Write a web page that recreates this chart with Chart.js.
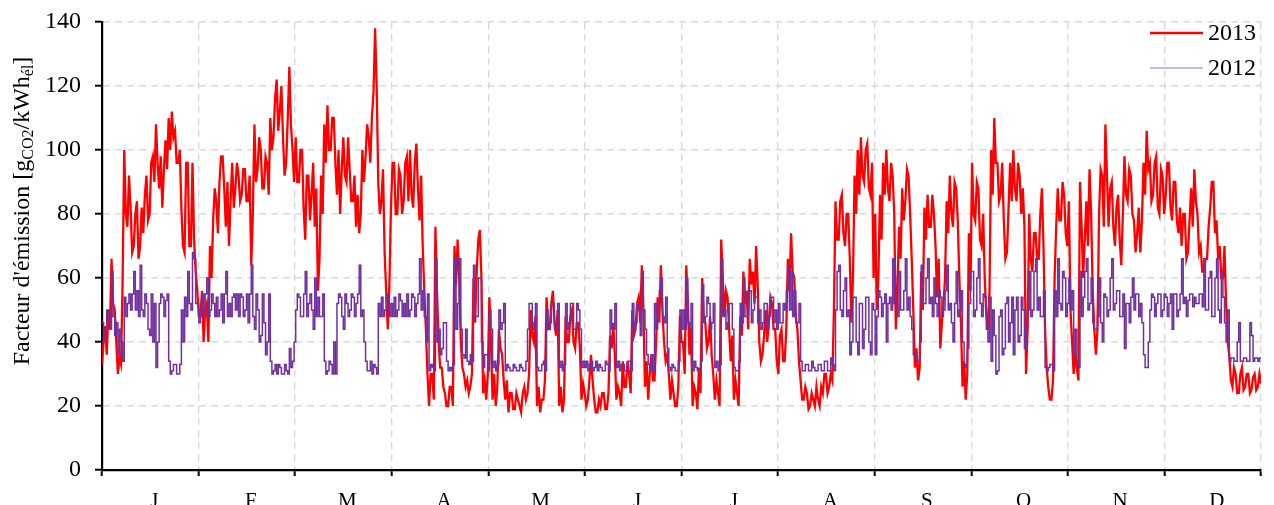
<!DOCTYPE html>
<html>
<head>
<meta charset="utf-8">
<script src="https://cdn.jsdelivr.net/npm/chart.js@4.4.1/dist/chart.umd.min.js"></script>
<style>
  html, body { margin: 0; padding: 0; background: #fff; overflow: hidden; }
  #wrap { width: 1274px; height: 505px; overflow: hidden; }
</style>
</head>
<body>
<div id="wrap"><canvas id="emissionChart" width="1274" height="525"></canvas></div>
<script>
// Facteur d'émission horaire, relevé jour par jour sur le graphique :
// pour chaque jour une valeur (A) et l'autre bord de la bande (B), g CO2 / kWh él
const monthLabels = ['J', 'F', 'M', 'A', 'M', 'J', 'J', 'A', 'S', 'O', 'N', 'D'];
const yTicks = [0, 20, 40, 60, 80, 100, 120, 140];

const emis2013A = [
  33, 45, 50, 66, 50, 30, 33, 100, 76, 82, 70, 84, 70, 74, 92, 80, 98, 108, 88, 82, 103, 110, 112, 106, 96, 82, 68, 96, 70, 72,
  56, 48, 40, 52, 70, 78, 84, 90, 98, 76, 70, 96, 88, 92, 86, 94, 84, 64, 108, 94, 100, 88, 96, 110, 104, 122, 112, 104, 96, 126, 100,
  104, 90, 100, 72, 92, 86, 76, 56, 92, 108, 114, 100, 110, 86, 80, 104, 90, 94, 84, 76, 74, 100, 98, 104, 110, 138, 90, 84, 68, 44,
  82, 96, 80, 92, 84, 98, 100, 82, 102, 78, 70, 44, 20, 30, 76, 40, 32, 24, 20, 26, 70, 72, 40, 30, 28, 26, 60, 62, 75, 24, 22,
  54, 22, 20, 44, 36, 22, 18, 24, 19, 22, 18, 26, 24, 50, 40, 20, 18, 22, 54, 44, 56, 42, 20, 18, 48, 40, 50, 38, 46, 22,
  24, 22, 36, 22, 18, 20, 24, 19, 42, 46, 22, 24, 34, 26, 30, 50, 44, 54, 64, 26, 22, 36, 28, 54, 64, 40, 36, 22, 24, 20, 48,
  40, 64, 36, 20, 24, 32, 60, 46, 40, 36, 22, 24, 72, 48, 54, 34, 22, 24, 48, 62, 56, 66, 62, 70, 40, 36, 50, 46, 52, 44,
  30, 44, 34, 66, 74, 60, 44, 28, 22, 24, 20, 22, 26, 20, 24, 30, 26, 28, 84, 72, 86, 70, 80, 46, 92, 100, 104, 90, 102, 86, 60,
  50, 86, 96, 100, 84, 92, 44, 76, 88, 84, 92, 66, 32, 28, 62, 82, 86, 76, 80, 54, 38, 52, 84, 92, 76, 88, 60, 26, 22, 74,
  96, 78, 88, 70, 60, 44, 100, 110, 96, 86, 78, 68, 96, 100, 84, 92, 88, 30, 80, 62, 74, 66, 88, 44, 26, 22, 60, 88, 78, 86, 70,
  50, 30, 32, 90, 60, 84, 94, 56, 36, 80, 92, 108, 76, 90, 70, 86, 64, 98, 84, 92, 78, 74, 68, 96, 106, 96, 86, 98, 80, 92,
  86, 96, 78, 90, 74, 70, 80, 68, 88, 94, 80, 70, 62, 66, 82, 90, 78, 70, 60, 52, 36, 26, 30, 24, 32, 26, 30, 25, 30, 26, 27
];
const emis2013B = [
  40, 36, 44, 52, 40, 35, 60, 80, 92, 68, 80, 66, 82, 86, 78, 96, 90, 96, 98, 94, 94, 100, 104, 96, 100, 70, 96, 70, 96, 62,
  48, 56, 50, 40, 60, 88, 74, 98, 88, 90, 84, 82, 96, 84, 94, 84, 92, 80, 90, 104, 88, 98, 86, 100, 116, 106, 120, 92, 110, 108, 90,
  90, 100, 82, 92, 78, 96, 88, 66, 80, 96, 100, 110, 96, 100, 94, 92, 104, 84, 92, 86, 80, 90, 108, 96, 118, 120, 80, 94, 56, 58,
  96, 80, 94, 80, 96, 84, 86, 96, 88, 92, 56, 30, 30, 22, 56, 32, 26, 20, 26, 20, 58, 60, 32, 26, 24, 30, 46, 72, 60, 28, 30,
  40, 30, 26, 38, 28, 28, 24, 19, 24, 20, 24, 22, 30, 42, 48, 26, 22, 28, 44, 52, 46, 50, 26, 22, 40, 48, 40, 46, 38, 27,
  20, 28, 28, 18, 22, 24, 19, 24, 38, 36, 26, 20, 26, 34, 24, 42, 52, 46, 50, 34, 30, 28, 40, 46, 50, 34, 30, 28, 20, 26, 40,
  30, 52, 44, 26, 19, 24, 48, 38, 48, 30, 28, 20, 60, 56, 44, 42, 28, 20, 42, 52, 44, 58, 52, 58, 34, 42, 40, 54, 44, 34,
  42, 34, 44, 56, 62, 48, 34, 22, 26, 19, 24, 20, 22, 26, 30, 24, 30, 50, 72, 84, 74, 80, 66, 60, 80, 86, 92, 100, 88, 96, 80,
  60, 72, 86, 88, 96, 80, 56, 66, 78, 94, 80, 50, 38, 32, 50, 72, 76, 86, 70, 66, 46, 60, 74, 80, 90, 78, 46, 34, 30, 56,
  80, 90, 72, 80, 48, 56, 86, 96, 84, 96, 66, 82, 84, 88, 96, 80, 76, 44, 66, 74, 66, 80, 70, 32, 22, 28, 76, 78, 90, 74, 84,
  40, 36, 28, 76, 72, 70, 80, 44, 44, 94, 76, 92, 88, 76, 82, 72, 80, 86, 94, 80, 68, 82, 78, 86, 94, 84, 96, 82, 94, 80,
  96, 82, 90, 78, 82, 80, 66, 78, 76, 84, 68, 62, 66, 76, 90, 74, 66, 60, 70, 40, 28, 32, 24, 30, 25, 30, 24, 29, 25, 30, 26
];

const emis2012A = [
  46, 44, 48, 62, 42, 36, 40, 54, 52, 50, 62, 56, 64, 48, 52, 42, 40, 32, 52, 54, 53, 34, 31, 33, 30, 50, 54, 62, 50, 66,
  52, 50, 48, 60, 50, 52, 54, 50, 46, 62, 52, 54, 50, 48, 54, 50, 46, 64, 44, 50, 42, 46, 40, 34, 31, 30, 32, 30, 31, 38, 34,
  50, 54, 48, 62, 52, 50, 60, 54, 48, 34, 31, 33, 40, 52, 54, 44, 52, 50, 54, 52, 64, 50, 34, 31, 30, 32, 52, 54, 50, 53,
  52, 54, 50, 53, 52, 55, 50, 54, 52, 66, 56, 40, 31, 32, 66, 44, 38, 46, 31, 31, 66, 52, 44, 35, 34, 36, 64, 48, 60, 32, 36,
  50, 32, 31, 50, 46, 31, 32, 31, 32, 31, 32, 31, 44, 52, 46, 32, 31, 34, 50, 46, 52, 44, 32, 31, 52, 46, 52, 44, 50, 32,
  32, 31, 34, 32, 31, 32, 31, 33, 50, 44, 32, 31, 33, 31, 34, 52, 46, 50, 62, 44, 33, 36, 52, 48, 60, 46, 38, 31, 32, 31, 50,
  50, 60, 44, 31, 32, 31, 58, 48, 52, 46, 32, 31, 66, 50, 46, 52, 32, 31, 52, 60, 48, 56, 50, 54, 50, 46, 52, 48, 54, 50,
  52, 46, 50, 64, 62, 56, 46, 34, 31, 33, 31, 32, 31, 33, 31, 34, 31, 33, 50, 64, 48, 60, 50, 40, 54, 36, 52, 44, 54, 36, 50,
  48, 54, 52, 40, 54, 66, 52, 62, 50, 66, 54, 44, 36, 34, 64, 52, 66, 54, 60, 48, 54, 50, 64, 52, 40, 62, 50, 40, 32, 52,
  62, 50, 66, 48, 54, 40, 34, 42, 31, 50, 38, 54, 46, 36, 54, 42, 50, 44, 62, 50, 66, 54, 48, 32, 32, 33, 56, 66, 50, 60, 52,
  50, 36, 34, 62, 54, 66, 52, 46, 44, 60, 40, 54, 50, 66, 52, 56, 48, 38, 52, 54, 50, 55, 52, 36, 32, 50, 54, 52, 55, 50,
  54, 52, 44, 55, 50, 66, 54, 53, 55, 54, 52, 55, 66, 50, 62, 48, 66, 46, 54, 40, 34, 35, 34, 46, 34, 35, 34, 42, 35, 34, 35
];
const emis2012B = [
  40, 50, 44, 48, 46, 44, 34, 48, 55, 55, 50, 48, 50, 55, 44, 55, 52, 40, 55, 48, 55, 30, 33, 30, 33, 40, 48, 52, 68, 52,
  46, 55, 55, 48, 55, 48, 48, 55, 55, 48, 48, 55, 55, 55, 48, 55, 55, 48, 55, 40, 55, 36, 55, 30, 33, 33, 30, 33, 30, 32, 40,
  55, 48, 55, 48, 55, 44, 48, 48, 55, 30, 34, 30, 30, 55, 48, 55, 48, 55, 48, 55, 48, 40, 31, 34, 33, 30, 48, 48, 55, 48,
  48, 48, 55, 48, 48, 48, 55, 48, 55, 50, 48, 55, 33, 31, 40, 36, 46, 34, 32, 33, 44, 66, 36, 44, 33, 34, 48, 60, 40, 36, 31,
  44, 34, 33, 44, 52, 33, 31, 33, 31, 33, 31, 34, 52, 44, 52, 31, 33, 31, 44, 52, 44, 52, 34, 33, 44, 52, 44, 52, 44, 34,
  34, 33, 31, 34, 33, 31, 34, 31, 44, 52, 34, 33, 31, 34, 31, 44, 52, 42, 50, 36, 31, 31, 44, 56, 48, 54, 32, 33, 31, 34, 44,
  44, 46, 52, 34, 31, 34, 46, 54, 44, 52, 34, 33, 48, 44, 52, 44, 31, 34, 46, 48, 56, 46, 54, 46, 44, 52, 44, 54, 46, 44,
  46, 52, 56, 50, 48, 46, 52, 31, 33, 31, 34, 31, 33, 31, 34, 31, 35, 31, 62, 50, 56, 48, 36, 54, 40, 52, 38, 54, 40, 52, 36,
  56, 48, 55, 52, 50, 52, 48, 50, 56, 50, 48, 36, 34, 40, 52, 60, 52, 48, 52, 56, 48, 56, 50, 46, 52, 48, 56, 33, 38, 62,
  48, 60, 52, 55, 44, 54, 50, 30, 48, 36, 52, 40, 54, 50, 40, 54, 38, 50, 48, 62, 50, 48, 56, 31, 33, 31, 48, 52, 62, 48, 60,
  56, 44, 32, 48, 62, 50, 60, 44, 48, 46, 55, 48, 60, 50, 56, 48, 55, 52, 46, 60, 55, 48, 46, 32, 40, 55, 48, 55, 48, 55,
  48, 55, 55, 48, 55, 52, 48, 55, 51, 52, 55, 51, 50, 60, 48, 60, 50, 62, 46, 50, 35, 34, 40, 34, 35, 34, 46, 34, 35, 35, 34
];

const HOURS_PER_DAY = 24;
const HOURS_PER_MONTH = 730;  // 8760 / 12, axe en heures comme dans le tableur
const HOURS_PER_YEAR = 8760;
const SERIF = "'Liberation Serif', 'Times New Roman', serif";
const GRID_GREY = '#d9d9d9';

// A au début du jour, B à midi
function toPoints(a, b) {
  const pts = [];
  a.forEach((v, i) => {
    pts.push({ x: i * HOURS_PER_DAY, y: v });
    const xb = i * HOURS_PER_DAY + HOURS_PER_DAY / 2;
    if (xb <= HOURS_PER_YEAR) pts.push({ x: xb, y: b[i] });
  });
  return pts;
}

// un tick tous les demi-mois : bords de mois (trait + grille) et milieux (lettre)
const xTickValues = [];
for (let i = 0; i <= 24; i++) xTickValues.push(i * HOURS_PER_MONTH / 2);
const isMonthEdge = (v) => Math.round(v) % HOURS_PER_MONTH === 0;

// titre de l'axe Y avec indices, et légende en haut à droite
const decorations = {
  id: 'decorations',
  afterDraw(chart) {
    const ctx = chart.ctx;
    const parts = [
      { t: "Facteur d'émission [g", sub: false },
      { t: 'CO2', sub: true },
      { t: '/kWh', sub: false },
      { t: 'él', sub: true },
      { t: ']', sub: false }
    ];
    const mainFont = '24px ' + SERIF;
    const subFont = '16px ' + SERIF;
    ctx.save();
    let total = 0;
    parts.forEach(p => {
      ctx.font = p.sub ? subFont : mainFont;
      p.w = ctx.measureText(p.t).width;
      total += p.w;
    });
    ctx.translate(29, 211);
    ctx.rotate(-Math.PI / 2);
    ctx.fillStyle = '#000';
    ctx.textBaseline = 'alphabetic';
    let x = -total / 2;
    parts.forEach(p => {
      ctx.font = p.sub ? subFont : mainFont;
      ctx.fillText(p.t, x, p.sub ? 4 : 0);
      x += p.w;
    });
    ctx.restore();

    // légende
    const items = [
      { label: '2013', color: '#ff0000', width: 2.5, y: 33 },
      { label: '2012', color: '#9a6cc8', width: 1.2, y: 68 }
    ];
    ctx.save();
    ctx.font = '24px ' + SERIF;
    ctx.textBaseline = 'middle';
    items.forEach(it => {
      ctx.strokeStyle = it.color;
      ctx.lineWidth = it.width;
      ctx.beginPath();
      ctx.moveTo(1150, it.y);
      ctx.lineTo(1203, it.y);
      ctx.stroke();
      ctx.fillStyle = '#000';
      ctx.fillText(it.label, 1208, it.y + 1);
    });
    ctx.restore();
  }
};

const ctx = document.getElementById('emissionChart').getContext('2d');
const emissionChart = new Chart(ctx, {
  type: 'line',
  data: {
    datasets: [
      {
        label: '2012',
        data: toPoints(emis2012A, emis2012B),
        borderColor: '#7030a0',
        borderWidth: 1.5,
        stepped: true,
        order: 0
      },
      {
        label: '2013',
        data: toPoints(emis2013A, emis2013B),
        borderColor: '#ff0000',
        borderWidth: 2.3,
        order: 1
      }
    ]
  },
  options: {
    responsive: false,
    animation: false,
    events: [],
    elements: {
      point: { radius: 0 },
      line: { tension: 0 }
    },
    layout: { padding: { top: 22, right: 1, left: 0, bottom: 0 } },
    plugins: {
      legend: { display: false },
      tooltip: { enabled: false }
    },
    scales: {
      x: {
        type: 'linear',
        min: 0,
        max: HOURS_PER_YEAR,
        afterBuildTicks: (scale) => {
          scale.ticks = xTickValues.map(v => ({ value: v }));
        },
        afterFit: (scale) => { scale.height = 55; },
        ticks: {
          autoSkip: false,
          maxRotation: 0,
          padding: 13,
          labelOffset: 4,
          color: '#000',
          font: { family: SERIF, size: 21 },
          callback: (value) => isMonthEdge(value)
            ? ''
            : monthLabels[Math.floor(value / HOURS_PER_MONTH)]
        },
        grid: {
          color: (c) => (c.tick && isMonthEdge(c.tick.value)) ? GRID_GREY : 'rgba(0,0,0,0)',
          lineWidth: 1.4,
          tickLength: 6,
          tickWidth: 2,
          tickColor: (c) => (c.tick && isMonthEdge(c.tick.value)) ? '#000' : 'rgba(0,0,0,0)'
        },
        border: { color: '#000', width: 2.2, dash: [7, 5] }
      },
      y: {
        min: yTicks[0],
        max: yTicks[yTicks.length - 1],
        afterBuildTicks: (scale) => {
          scale.ticks = yTicks.map(v => ({ value: v }));
        },
        afterFit: (scale) => {
          scale.width = 102;
          // la zone de tracé commence à 140 = y 22, sans marge pour les étiquettes
          scale.paddingTop = 0;
          scale.paddingBottom = 0;
        },
        ticks: {
          padding: 14,
          color: '#000',
          font: { family: SERIF, size: 24 }
        },
        grid: {
          color: GRID_GREY,
          lineWidth: 1.4,
          tickLength: 7,
          tickWidth: 2,
          tickColor: '#000'
        },
        border: { color: '#000', width: 2.2, dash: [7, 5] }
      }
    }
  },
  plugins: [decorations]
});
</script>
</body>
</html>
